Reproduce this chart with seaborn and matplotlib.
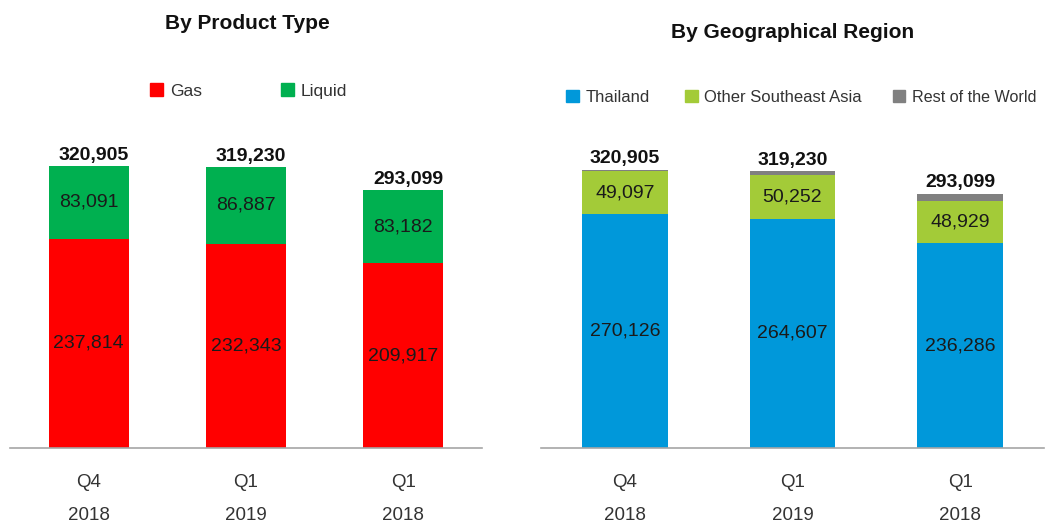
import pandas as pd
import numpy as np
import matplotlib
matplotlib.use("Agg")
import matplotlib.pyplot as plt
import seaborn as sns
from matplotlib.patches import Patch

# Datos
periodos = ["Q4\n2018", "Q1\n2019", "Q1\n2018"]
gas = [237814, 232343, 209917]
liquid = [83091, 86887, 83182]
thailand = [270126, 264607, 236286]
other_sea = [49097, 50252, 48929]
rest_world = [1682, 4371, 7884]
totales = [320905, 319230, 293099]

c_gas, c_liq = "#FF0000", "#00B050"
c_thai, c_sea, c_row = "#0098DA", "#A3CB38", "#808080"

sns.set_theme(style="white")
plt.rcParams["font.family"] = ["Liberation Sans", "DejaVu Sans"]

fig = plt.figure(figsize=(10.45, 5.22), dpi=100)
ax1 = fig.add_axes([10 / 1045, 1 - 448 / 522, 472 / 1045, 328 / 522])
ax2 = fig.add_axes([541 / 1045, 1 - 448 / 522, 503 / 1045, 328 / 522])

df = pd.DataFrame({"periodo": periodos, "gas": gas, "liquid": liquid,
                   "thailand": thailand, "other_sea": other_sea,
                   "rest_world": rest_world, "total": totales})
df["gas_liq"] = df["gas"] + df["liquid"]
df["thai_sea"] = df["thailand"] + df["other_sea"]
df["thai_sea_row"] = df["thai_sea"] + df["rest_world"]

# Grafico por tipo de producto (barras superpuestas = apiladas)
sns.barplot(data=df, x="periodo", y="gas_liq", color=c_liq, width=0.51,
            linewidth=0, saturation=1, ax=ax1)
sns.barplot(data=df, x="periodo", y="gas", color=c_gas, width=0.51,
            linewidth=0, saturation=1, ax=ax1)

# Grafico por region
sns.barplot(data=df, x="periodo", y="thai_sea_row", color=c_row, width=0.51,
            linewidth=0, saturation=1, ax=ax2)
sns.barplot(data=df, x="periodo", y="thai_sea", color=c_sea, width=0.51,
            linewidth=0, saturation=1, ax=ax2)
sns.barplot(data=df, x="periodo", y="thailand", color=c_thai, width=0.51,
            linewidth=0, saturation=1, ax=ax2)

fs = 14
for i in range(len(periodos)):
    ax1.text(i, gas[i] / 2, f"{gas[i]:,}", ha="center", va="center",
             fontsize=fs, color="#1a1a1a")
    ax1.text(i, gas[i] + liquid[i] / 2, f"{liquid[i]:,}", ha="center",
             va="center", fontsize=fs, color="#1a1a1a")
    ax1.text(i + 0.03, totales[i] + 2500, f"{totales[i]:,}", ha="center",
             va="bottom", fontsize=fs, fontweight="bold", color="#111111")
    ax2.text(i, thailand[i] / 2, f"{thailand[i]:,}", ha="center",
             va="center", fontsize=fs, color="#1a1a1a")
    ax2.text(i, thailand[i] + other_sea[i] / 2, f"{other_sea[i]:,}",
             ha="center", va="center", fontsize=fs, color="#1a1a1a")
    ax2.text(i, totales[i] + 3000, f"{totales[i]:,}", ha="center",
             va="bottom", fontsize=fs, fontweight="bold", color="#111111")

for ax, ymax in [(ax1, 372900), (ax2, 378600)]:
    ax.set_xlim(-0.5, 2.5)
    ax.set_ylim(0, ymax)
    ax.set_xlabel("")
    ax.set_ylabel("")
    ax.set_yticks([])
    for s in ["top", "right", "left"]:
        ax.spines[s].set_visible(False)
    ax.spines["bottom"].set_color("#A6A6A6")
    ax.spines["bottom"].set_linewidth(1.2)
    ax.tick_params(axis="x", length=0, pad=19, labelsize=13.5,
                   labelcolor="#333333")
    for lbl in ax.get_xticklabels():
        lbl.set_linespacing(2.2)

fig.text(247 / 1045, 1 - 24 / 522, "By Product Type", ha="center",
         va="center", fontsize=15, fontweight="bold", color="#111111")
fig.text(793 / 1045, 1 - 32 / 522, "By Geographical Region", ha="center",
         va="center", fontsize=15, fontweight="bold", color="#111111")


# Leyendas: cada entrada en su sitio
def entrada(color, texto, x, y, size=12.5):
    fig.legend(handles=[Patch(color=color, label=texto)], loc="center left",
               bbox_to_anchor=(x / 1045, 1 - y / 522), frameon=False,
               fontsize=size, handlelength=0.75, handleheight=0.75,
               handletextpad=0.4, borderpad=0, borderaxespad=0,
               labelcolor="#333333")


entrada(c_gas, "Gas", 150, 91)
entrada(c_liq, "Liquid", 281, 91)
entrada(c_thai, "Thailand", 566, 97, 12)
entrada(c_sea, "Other Southeast Asia", 685, 97, 12)
entrada(c_row, "Rest of the World", 893, 97, 11.6)

fig.savefig("out.png", dpi=100)
